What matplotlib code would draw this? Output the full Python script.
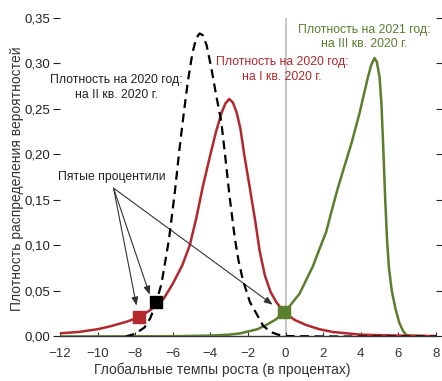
import numpy as np
import matplotlib.pyplot as plt

plt.rcParams['font.family'] = ['Liberation Sans', 'DejaVu Sans']
plt.rcParams['axes.unicode_minus'] = True

# Density for 2020, Q2 2020 (black dashed)
x_q2 = [-8.5, -8.0, -7.5, -7.2, -6.9, -6.6, -6.2, -5.9, -5.65, -5.4, -5.2, -4.95, -4.75,
        -4.57, -4.4, -4.2, -3.95, -3.7, -3.42, -3.2, -2.98, -2.7, -2.5, -2.27, -1.9, -1.56,
        -1.2, -0.8, -0.4, 0.0, 2.0, 4.0, 8.0]
y_q2 = [0.0, 0.003, 0.010, 0.020, 0.036, 0.058, 0.107, 0.157, 0.205, 0.248, 0.280, 0.312, 0.328,
        0.333, 0.331, 0.320, 0.295, 0.266, 0.236, 0.196, 0.154, 0.108, 0.083, 0.062, 0.038, 0.0255,
        0.012, 0.005, 0.002, 0.0005, 0.0, 0.0, 0.0]

# Density for 2020, Q1 2020 (red)
x_q1 = [-12.0, -11.0, -10.0, -9.36, -8.5, -7.8, -7.2, -6.5, -6.0, -5.5, -5.1, -4.75, -4.4,
        -4.0, -3.7, -3.4, -3.2, -3.0, -2.8, -2.6, -2.4, -2.2, -1.9, -1.6, -1.38, -1.1,
        -0.8, -0.5, -0.1, 0.5, 1.1, 1.8, 2.5, 4.0, 6.0, 8.0]
y_q1 = [0.0035, 0.005, 0.008, 0.011, 0.016, 0.021, 0.029, 0.041, 0.058, 0.078, 0.100, 0.130, 0.165,
        0.200, 0.225, 0.246, 0.256, 0.261, 0.257, 0.246, 0.228, 0.200, 0.163, 0.125, 0.094, 0.067,
        0.049, 0.038, 0.027, 0.018, 0.0126, 0.008, 0.005, 0.002, 0.001, 0.0005]

# Density for 2021, Q3 2020 (green)
x_q3 = [-12.0, -6.0, -4.0, -3.0, -2.4, -1.5, -1.0, -0.5, -0.1, 0.2, 0.74, 1.0, 1.45,
        1.8, 2.16, 2.45, 2.75, 3.1, 3.5, 3.94, 4.38, 4.55, 4.73, 4.85, 5.0, 5.1, 5.2,
        5.3, 5.4, 5.5, 5.65, 5.85, 6.05, 6.25, 6.45, 8.0]
y_q3 = [0.0, 0.0003, 0.001, 0.002, 0.0035, 0.008, 0.013, 0.019, 0.027, 0.033, 0.047, 0.058, 0.077,
        0.096, 0.115, 0.138, 0.161, 0.185, 0.212, 0.246, 0.285, 0.298, 0.306, 0.302, 0.285, 0.255, 0.205,
        0.150, 0.105, 0.075, 0.050, 0.030, 0.015, 0.006, 0.001, 0.0]

# Fifth percentiles
p5_x = [-7.8, -6.9, -0.1]
p5_y = [0.021, 0.0376, 0.027]

red = '#b3282d'
green = '#5a7d2e'

fig = plt.figure(figsize=(4.42, 3.81), dpi=100)
ax = fig.add_axes([0.1357, 0.1168, 0.8507, 0.836])

ax.axvline(0, color='#c8c8c8', lw=1.5, zorder=1)
ax.plot(x_q3, y_q3, color=green, lw=1.8, zorder=3)
ax.plot(x_q1, y_q1, color=red, lw=1.8, zorder=3)
ax.plot(x_q2, y_q2, color='black', lw=1.6, ls=(0, (4, 2.5)), zorder=4)

ax.plot(p5_x[0], p5_y[0], 's', color=red, ms=8, zorder=5)
ax.plot(p5_x[1], p5_y[1], 's', color='black', ms=8, zorder=5)
ax.plot(p5_x[2], p5_y[2], 's', color=green, ms=8, zorder=5)

# arrows from label to percentile markers
origin = (-9.15, 0.163)
ends = [(-7.93, 0.034), (-7.23, 0.046), (-0.69, 0.035)]
for ex, ey in ends:
    ax.annotate('', xy=(ex, ey), xytext=origin,
                arrowprops=dict(arrowstyle='-|>,head_length=0.5,head_width=0.2',
                                color='#333333', lw=0.8, shrinkA=0, shrinkB=0))

ax.text(-9.0, 0.2735, 'Плотность на 2020 год:\nна II кв. 2020 г.', ha='center', va='center',
        fontsize=8.8, color='#222222', linespacing=1.25)
ax.text(-0.2, 0.2935, 'Плотность на 2020 год:\nна I кв. 2020 г.', ha='center', va='center',
        fontsize=8.8, color=red, linespacing=1.25)
ax.text(4.2, 0.3295, 'Плотность на 2021 год:\nна III кв. 2020 г.', ha='center', va='center',
        fontsize=8.8, color=green, linespacing=1.25)
ax.text(-9.25, 0.175, 'Пятые процентили', ha='center', va='center',
        fontsize=8.8, color='#222222')

ax.set_xlim(-12, 8)
ax.set_ylim(0, 0.35)
ax.set_xticks(np.arange(-12, 9, 2))
ax.set_yticks(np.arange(0, 0.351, 0.05))
ax.set_yticklabels([f'{v:.2f}'.replace('.', ',') for v in np.arange(0, 0.351, 0.05)])
ax.set_xticklabels([f'{v}'.replace('-', '\u2212') for v in range(-12, 9, 2)])

for s in ['left', 'right', 'top']:
    ax.spines[s].set_visible(False)
ax.spines['bottom'].set_color('#333333')
ax.spines['bottom'].set_linewidth(1.0)

ax.tick_params(axis='y', direction='out', length=5, width=0.8, colors='#222222',
               labelsize=9.5, right=True, pad=2)
ax.tick_params(axis='x', direction='in', length=3, width=0.8, colors='#333333',
               labelsize=9.5, pad=8)

fig.text(222 / 442, 1 - 370 / 381, 'Глобальные темпы роста (в процентах)', fontsize=10,
         color='#333333', ha='center', va='center')
fig.text(17 / 442, 1 - 179 / 381, 'Плотность распределения вероятностей', fontsize=10,
         color='#333333', ha='center', va='center', rotation=90)

fig.savefig('out.png', dpi=100)
